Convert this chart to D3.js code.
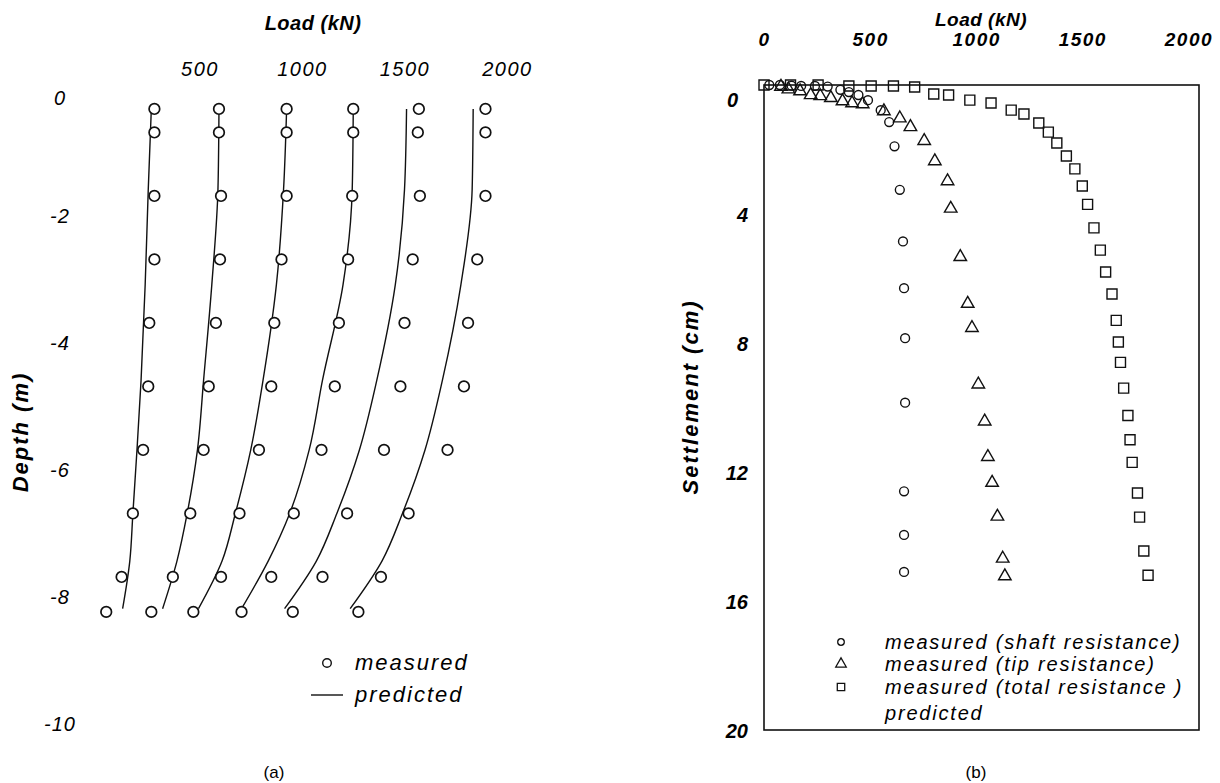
<!DOCTYPE html>
<html>
<head>
<meta charset="utf-8">
<script src="https://cdnjs.cloudflare.com/ajax/libs/d3/7.8.5/d3.min.js"></script>
<style>
	body { margin: 0; background: #fff; }
	svg text { font-family: "Liberation Sans", Arial, sans-serif; fill: #000; }
</style>
</head>
<body>
<svg id="chart" width="1220" height="783"></svg>
<script>
// ---- panel (a): load distribution along the pile ----
var loadTicksA = [500, 1000, 1500, 2000];
var depthTicks = [0, -2, -4, -6, -8, -10];
var measuredDepth = [-0.33, -0.7, -1.7, -2.7, -3.7, -4.7, -5.7, -6.7, -7.7, -8.25];
var measuredLoad = [
	[280, 280, 280, 280, 255, 250, 225, 175, 120, 45],
	[595, 595, 605, 600, 580, 545, 520, 455, 370, 265],
	[925, 925, 925, 900, 865, 850, 790, 695, 605, 470],
	[1250, 1250, 1245, 1225, 1180, 1160, 1095, 960, 850, 705],
	[1570, 1565, 1575, 1540, 1500, 1480, 1400, 1220, 1100, 955],
	[1895, 1895, 1895, 1855, 1810, 1790, 1710, 1520, 1385, 1275]
];
var predictedDepth = [-0.33, -1.6, -3.1, -4.6, -5.7, -6.7, -7.45, -8.2];
var predictedLoad = [
	[265, 250, 235, 215, 195, 175, 160, 125],
	[595, 590, 560, 520, 490, 440, 390, 320],
	[925, 910, 875, 810, 750, 675, 610, 495],
	[1250, 1245, 1200, 1100, 1035, 940, 835, 705],
	[1510, 1500, 1455, 1365, 1280, 1170, 1070, 915],
	[1835, 1830, 1775, 1685, 1600, 1490, 1390, 1235]
];

// ---- panel (b): load - settlement ----
var loadTicksB = [0, 500, 1000, 1500, 2000];
var settleTicks = [0, 4, 8, 12, 16, 20];
var shaftLoad = [25, 75, 130, 175, 240, 300, 360, 400, 445, 490, 550, 590, 615, 640, 655, 660, 665, 665, 660, 660, 660];
var shaftSettle = [0, 0, 0.02, 0.03, 0.03, 0.05, 0.15, 0.22, 0.31, 0.47, 0.78, 1.15, 1.9, 3.25, 4.85, 6.3, 7.85, 9.85, 12.6, 13.95, 15.1];
var tipLoad = [80, 115, 170, 220, 265, 315, 370, 415, 465, 565, 640, 690, 755, 805, 865, 880, 925, 960, 980, 1010, 1040, 1055, 1075, 1100, 1125, 1135];
var tipSettle = [0.02, 0.1, 0.16, 0.28, 0.31, 0.37, 0.47, 0.53, 0.56, 0.78, 1.0, 1.27, 1.7, 2.33, 2.95, 3.8, 5.3, 6.75, 7.5, 9.25, 10.4, 11.5, 12.3, 13.35, 14.65, 15.2];
var totalLoad = [0, 125, 255, 400, 505, 610, 710, 800, 870, 970, 1070, 1165, 1225, 1295, 1340, 1380, 1425, 1465, 1500, 1525, 1555, 1585, 1610, 1640, 1660, 1670, 1680, 1695, 1715, 1725, 1735, 1760, 1770, 1790, 1810];
var totalSettle = [0, 0, 0, 0.03, 0.03, 0.03, 0.06, 0.28, 0.31, 0.47, 0.56, 0.78, 0.9, 1.18, 1.46, 1.8, 2.2, 2.6, 3.13, 3.7, 4.43, 5.12, 5.8, 6.48, 7.3, 7.97, 8.6, 9.4, 10.25, 11.0, 11.7, 12.65, 13.4, 14.45, 15.2];
var legendB = ["measured (shaft resistance)", "measured (tip resistance)", "measured (total resistance )", "predicted"];

var svg = d3.select("#chart");
var ink = "#111";
var plain = function(d) { return String(d); };

function styleText(sel, size, bold, italic) {
	sel.style("font-size", size + "px")
		.style("font-weight", bold ? "bold" : "normal")
		.style("font-style", italic ? "italic" : "normal");
	return sel;
}

function drawPanelA() {
	var x = d3.scaleLinear().domain([0, 2000]).range([97, 507]);
	var y = d3.scaleLinear().domain([0, -10]).range([88, 723]);
	var g = svg.append("g").attr("class", "panel-a");

	var gx = g.append("g")
		.attr("transform", "translate(0,76)")
		.call(d3.axisTop(x).tickValues(loadTicksA).tickFormat(plain).tickSize(0).tickPadding(0));
	gx.select(".domain").remove();
	styleText(gx.selectAll("text"), 20, false, true).style("letter-spacing", "1.5px");

	var gy = g.append("g")
		.attr("transform", "translate(60,0)")
		.call(d3.axisLeft(y).tickValues(depthTicks).tickFormat(plain).tickSize(0).tickPadding(0));
	gy.select(".domain").remove();
	styleText(gy.selectAll("text"), 20, false, true)
		.attr("text-anchor", "middle")
		.style("letter-spacing", "1px")
		.attr("dy", function(d) { return d === 0 ? "0.8em" : "0.35em"; });

	styleText(g.append("text"), 20, true, true)
		.attr("x", 313).attr("y", 30)
		.attr("text-anchor", "middle")
		.style("letter-spacing", "0.5px")
		.text("Load (kN)");
	styleText(g.append("text"), 22, true, true)
		.attr("transform", "translate(28,432) rotate(-90)")
		.attr("text-anchor", "middle")
		.style("letter-spacing", "2px")
		.text("Depth (m)");

	var line = d3.line()
		.x(function(d) { return x(d[0]); })
		.y(function(d) { return y(d[1]); })
		.curve(d3.curveMonotoneY);

	predictedLoad.forEach(function(loads) {
		g.append("path")
			.datum(loads.map(function(v, i) { return [v, predictedDepth[i]]; }))
			.attr("d", line)
			.attr("fill", "none")
			.attr("stroke", ink)
			.attr("stroke-width", 1.4);
	});

	measuredLoad.forEach(function(loads) {
		g.selectAll(null)
			.data(loads.map(function(v, i) { return [v, measuredDepth[i]]; }))
			.enter()
			.append("circle")
			.attr("cx", function(d) { return x(d[0]); })
			.attr("cy", function(d) { return y(d[1]); })
			.attr("r", 5.3)
			.attr("fill", "#fff")
			.attr("stroke", ink)
			.attr("stroke-width", 1.7);
	});

	// legend
	g.append("circle").attr("cx", 327).attr("cy", 663).attr("r", 4.3)
		.attr("fill", "none").attr("stroke", ink).attr("stroke-width", 1.4);
	g.append("line").attr("x1", 311).attr("x2", 343).attr("y1", 695).attr("y2", 695)
		.attr("stroke", ink).attr("stroke-width", 1.4);
	styleText(g.append("text"), 22, false, true).attr("x", 355).attr("y", 670)
		.style("letter-spacing", "2px").text("measured");
	styleText(g.append("text"), 22, false, true).attr("x", 355).attr("y", 702)
		.style("letter-spacing", "2px").text("predicted");

	styleText(g.append("text"), 17, false, false)
		.attr("x", 274).attr("y", 778).attr("text-anchor", "middle").text("(a)");
}

function drawPanelB() {
	var x = d3.scaleLinear().domain([0, 2050]).range([764, 1199]);
	var y = d3.scaleLinear().domain([0, 20]).range([85, 730]);
	var g = svg.append("g").attr("class", "panel-b");

	g.append("rect")
		.attr("x", x(0)).attr("y", y(0))
		.attr("width", x(2050) - x(0)).attr("height", y(20) - y(0))
		.attr("fill", "none").attr("stroke", ink).attr("stroke-width", 1.6);

	var gx = g.append("g")
		.attr("transform", "translate(0,46)")
		.call(d3.axisTop(x).tickValues(loadTicksB).tickFormat(plain).tickSize(0).tickPadding(0));
	gx.select(".domain").remove();
	styleText(gx.selectAll("text"), 19, true, true).style("letter-spacing", "1.5px");

	var gy = g.append("g")
		.attr("transform", "translate(748,0)")
		.call(d3.axisLeft(y).tickValues(settleTicks).tickFormat(plain).tickSize(0).tickPadding(0));
	gy.select(".domain").remove();
	styleText(gy.selectAll("text"), 20, true, true)
		.attr("dy", function(d) { return d === 0 ? "1.05em" : "0.35em"; })
		.attr("dx", function(d) { return d === 0 ? "-10" : "0"; });

	styleText(g.append("text"), 19, true, true)
		.attr("x", 981).attr("y", 26)
		.attr("text-anchor", "middle")
		.style("letter-spacing", "0.5px")
		.text("Load (kN)");
	styleText(g.append("text"), 22, true, true)
		.attr("transform", "translate(698,397) rotate(-90)")
		.attr("text-anchor", "middle")
		.style("letter-spacing", "2px")
		.text("Settlement (cm)");

	var symbols = [d3.symbolCircle, d3.symbolTriangle, d3.symbolSquare];
	var sizes = [62, 68, 100];
	var series = [
		shaftLoad.map(function(v, i) { return [v, shaftSettle[i]]; }),
		tipLoad.map(function(v, i) { return [v, tipSettle[i]]; }),
		totalLoad.map(function(v, i) { return [v, totalSettle[i]]; })
	];

	series.forEach(function(pts, k) {
		var sym = d3.symbol().type(symbols[k]).size(sizes[k]);
		g.selectAll(null)
			.data(pts)
			.enter()
			.append("path")
			.attr("d", sym)
			.attr("transform", function(d) {
				return "translate(" + x(d[0]) + "," + (y(d[1]) + (k === 1 ? 1 : 0)) + ")";
			})
			.attr("fill", "none")
			.attr("stroke", ink)
			.attr("stroke-width", 1.4);
	});

	// legend
	var rows = [642, 664, 687, 713];
	legendB.forEach(function(label, i) {
		if (i < 3) {
			g.append("path")
				.attr("d", d3.symbol().type(symbols[i]).size([34, 48, 55][i]))
				.attr("transform", "translate(841," + rows[i] + ")")
				.attr("fill", "none")
				.attr("stroke", ink)
				.attr("stroke-width", 1.3);
		}
		styleText(g.append("text"), 20, false, true)
			.attr("x", 885).attr("y", rows[i] + 7)
			.style("letter-spacing", "1.8px")
			.text(label);
	});

	styleText(g.append("text"), 17, false, false)
		.attr("x", 976).attr("y", 778).attr("text-anchor", "middle").text("(b)");
}

drawPanelA();
drawPanelB();
</script>
</body>
</html>
